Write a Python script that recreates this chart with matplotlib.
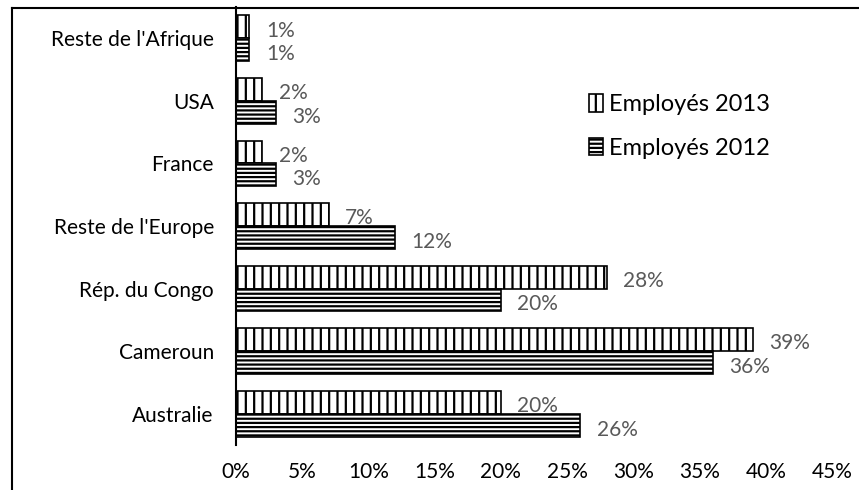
import matplotlib
matplotlib.use("Agg")
import matplotlib.pyplot as plt
import numpy as np
from matplotlib.lines import Line2D

categories = ["Australie", "Cameroun", "Rép. du Congo", "Reste de l'Europe",
              "France", "USA", "Reste de l'Afrique"]
emp2013 = [20, 39, 28, 7, 2, 2, 1]
emp2012 = [26, 36, 20, 12, 3, 3, 1]
xticks = [0, 5, 10, 15, 20, 25, 30, 35, 40, 45]

plt.rcParams['font.family'] = ['Lato', 'DejaVu Sans']
plt.rcParams['hatch.linewidth'] = 1.6

fig = plt.figure(figsize=(8.59, 4.9), dpi=100)
ax = fig.add_axes([236/859, 1-445/490, (832-236)/859, (445-7)/490])

y = np.arange(len(categories))
h = 0.365
b13 = ax.barh(y + h/2, emp2013, height=h, color='white', edgecolor='black',
              hatch='||', linewidth=1.2, label='Employés 2013')
b12 = ax.barh(y - h/2, emp2012, height=h, color='white', edgecolor='black',
              hatch='----', linewidth=1.2, label='Employés 2012')

for yi, v in zip(y, emp2013):
    ax.text(v + 1.25, yi + h/2 - 0.06, f"{v}%", va='center', ha='left',
            fontsize=15, color='#595959')
for yi, v in zip(y, emp2012):
    ax.text(v + 1.25, yi - h/2 - 0.07, f"{v}%", va='center', ha='left',
            fontsize=15, color='#595959')

ax.set_xlim(0, 45)
ax.set_ylim(-0.5, 6.5)
ax.set_xticks(xticks)
ax.set_xticklabels([f"{t}%" for t in xticks], fontsize=15)
ax.set_yticks(y)
ax.set_yticklabels(categories, fontsize=15)
ax.tick_params(axis='x', length=0, pad=12)
ax.tick_params(axis='y', length=0, pad=16)
for s in ['top', 'right', 'bottom']:
    ax.spines[s].set_visible(False)
ax.spines['left'].set_linewidth(1.5)

leg = ax.legend(handles=[b13, b12], loc='upper left',
                bbox_to_anchor=((568-236)/596, 1-(73-7)/438),
                frameon=False, fontsize=17, handlelength=0.6, handleheight=0.75,
                handletextpad=0.25, labelspacing=0.95)

fig.add_artist(Line2D([12/859, 12/859], [0, 1-8/490], color='black', lw=1.5,
                      transform=fig.transFigure))
fig.add_artist(Line2D([12/859, 1], [1-8/490, 1-8/490], color='black', lw=1.5,
                      transform=fig.transFigure))

fig.savefig("out.png", dpi=100)
